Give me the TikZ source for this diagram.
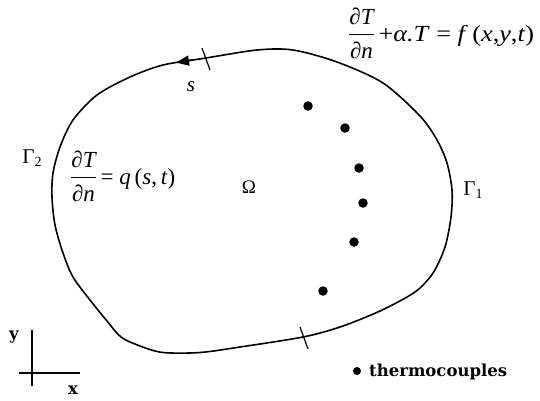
\documentclass[tikz,border=0pt]{standalone}
\usepackage{amsmath}
\usepackage{graphicx}
\usepackage{fontspec}
\setmainfont{Liberation Serif}
\newfontfamily\legfont{DejaVu Serif}
\usetikzlibrary{arrows.meta}
\begin{document}
\begin{tikzpicture}[x=1pt,y=-1pt,
  bnd/.style={line width=1.6pt, line join=round},
  tickmark/.style={line width=1.2pt},
  tc/.style={circle, fill=black, inner sep=0pt, minimum size=9.5pt},
  eq/.style={font=\fontsize{23}{25}\selectfont, inner sep=0pt},
  lbl/.style={font=\fontsize{21}{23}\selectfont, inner sep=0pt},
  leg/.style={font=\legfont\bfseries\fontsize{16.5}{18}\selectfont, inner sep=0pt},
  ax/.style={line width=2.6pt}]
\useasboundingbox (0,0) rectangle (540,400);
% boundary
\draw[bnd] plot[smooth cycle, tension=0.5] coordinates {
  (52,197) (53,173) (60,147) (73,120) (97,95) (130,77) (163,65) (206,58)
  (257,50) (293,50) (337,62) (383,83) (420,116) (437,140) (447,163)
  (452,190) (451,217) (445,247) (433,273) (415,292) (380,311)
  (340,327) (303,337) (240,347) (200,352.5) (163,352.5) (140,346) (121,337)
  (107,321) (90,300) (73,277) (63,253) (55,225)};
% direction arrow
\coordinate (atail) at (194,59.8);
\coordinate (atip) at (176,62.6);
\draw[bnd, -{Triangle[length=13pt,width=10pt]}] (atail) -- (atip);
% ticks
\coordinate (t1a) at (202,48);
\coordinate (t1b) at (210,70);
\draw[tickmark] (t1a) -- (t1b);
\coordinate (t2a) at (300,327);
\coordinate (t2b) at (308,349);
\draw[tickmark] (t2a) -- (t2b);
% labels
\node[eq, font=\fontsize{21}{23}\selectfont\itshape] (s) at (191,87) {s};
\node[lbl] (g2) at (32,158) {Γ\raisebox{-0.3ex}{\fontsize{14}{15}\selectfont 2}};
\node[lbl] (g1) at (473,190) {Γ\raisebox{-0.3ex}{\fontsize{14}{15}\selectfont 1}};
\node[lbl, font=\fontsize{19}{21}\selectfont] (om) at (249,187) {Ω};
\node[eq, anchor=west] (bc1) at (348,33)
  {$\displaystyle\frac{\textit{∂T}}{\textit{∂n}}$\,\scalebox{1.14}[1]{+\textit{α.T} = \textit{f}\,(\textit{x},\textit{y},\textit{t})}};
\node[eq, anchor=west] (bc2) at (70,176)
  {$\displaystyle\frac{\textit{∂T}}{\textit{∂n}}$\,= \textit{q}\,(\textit{s},\,\textit{t})};
% thermocouples
\node[tc] (p1) at (308,106) {};
\node[tc] (p2) at (345,128) {};
\node[tc] (p3) at (359,168) {};
\node[tc] (p4) at (363,203) {};
\node[tc] (p5) at (354,242) {};
\node[tc] (p6) at (323,291) {};
% legend
\node[tc, minimum size=8pt] (ld) at (357,371) {};
\node[leg, anchor=base west] (lt) at (369,376) {thermocouples};
% axes
\coordinate (yb) at (32,386);
\coordinate (yt) at (32,330);
\coordinate (xl) at (19,373);
\coordinate (xr) at (80,373);
\draw[ax] (yb) -- (yt);
\draw[ax] (xl) -- (xr);
\node[leg] (ylab) at (14,337) {y};
\node[leg] (xlab) at (73,390) {x};
\end{tikzpicture}
\end{document}
